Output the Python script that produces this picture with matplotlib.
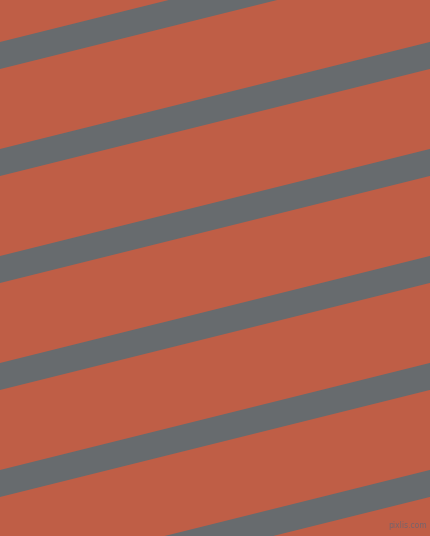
import numpy as np
import matplotlib
matplotlib.use("Agg")
import matplotlib.pyplot as plt

# stripe data: top edge of each stripe where it meets the left side (px)
stripe_tops = [-65, 42, 149, 256, 363, 470, 577]
stripe_width = 27
slope = 0.249

bg_color = "#BF5E46"
stripe_color = "#676B6E"

fig = plt.figure(figsize=(4.3, 5.36), dpi=100)
ax = fig.add_axes([0, 0, 1, 1])
ax.set_facecolor(bg_color)
fig.patch.set_facecolor(bg_color)

x = np.array([0, 430])
for top in stripe_tops:
    y_top = top - slope * x
    ax.fill_between(x, y_top, y_top + stripe_width, color=stripe_color, lw=0)

ax.set_xlim(0, 430)
ax.set_ylim(536, 0)
ax.axis("off")

ax.text(427, 530, "pixlis.com", fontsize=5.5, color="#6E6470",
        ha="right", va="bottom", alpha=0.9)

fig.savefig("out.png", dpi=100, facecolor=bg_color)
